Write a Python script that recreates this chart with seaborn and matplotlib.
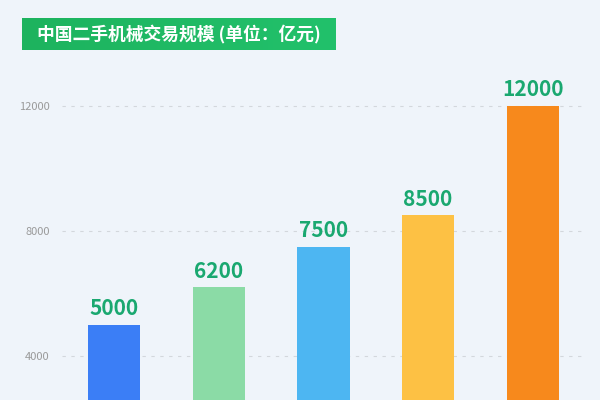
import matplotlib
matplotlib.use('Agg')
import matplotlib.pyplot as plt
import numpy as np
import pandas as pd
import seaborn as sns

# data
categories = ['A', 'B', 'C', 'D', 'E']
values = [5000, 6200, 7500, 8500, 12000]
bar_colors = ['#3b7ef6', '#8bdba6', '#4db6f2', '#fdc144', '#f7891c']
ytick_values = [4000, 8000, 12000]
title = '中国二手机械交易规模 (单位：亿元)'

bg = '#eff4fa'

sns.set_theme(style='white')
plt.rcParams['font.family'] = ['Noto Sans CJK SC', 'DejaVu Sans']

df = pd.DataFrame({'cat': categories, 'val': values})

fig = plt.figure(figsize=(6, 4), dpi=100)
fig.patch.set_facecolor(bg)

ax = fig.add_axes([62 / 600, 0, 523 / 600, 320 / 400])
ax.set_facecolor(bg)
sns.barplot(data=df, x='cat', y='val', hue='cat', palette=bar_colors,
            width=0.5, legend=False, ax=ax, saturation=1, linewidth=0)

ax.set_xlim(-0.5, 4.5)
ax.set_ylim(2592, 12832)
ax.set_yticks(ytick_values)
ax.set_yticklabels([str(v) for v in ytick_values], color='#9a9a9a', fontsize=8)
ax.tick_params(axis='y', length=0, pad=9)
ax.set_xticks([])
ax.set_xlabel('')
ax.set_ylabel('')
for s in ax.spines.values():
    s.set_visible(False)
ax.grid(axis='y', color='#d3d7dc', linestyle=(0, (3, 5)), linewidth=0.8)
ax.set_axisbelow(True)

for i, v in enumerate(values):
    ax.annotate(str(v), (i, v), xytext=(0, 4), textcoords='offset points',
                ha='center', va='bottom', color='#1aa870', fontsize=15,
                fontweight='bold')

# green title box
tax = fig.add_axes([22 / 600, 1 - 50 / 400, 314 / 600, 32 / 400])
grad = np.linspace(0, 1, 256).reshape(1, -1)
cmap = matplotlib.colors.LinearSegmentedColormap.from_list('g', ['#1db35e', '#22c16b'])
tax.imshow(grad, aspect='auto', cmap=cmap, extent=(0, 1, 0, 1))
tax.set_axis_off()
tax.text(0.5, 0.5, title, ha='center', va='center', color='white',
         fontsize=12.8, fontweight='bold', transform=tax.transAxes)

fig.savefig('out.png', dpi=100, facecolor=bg)
